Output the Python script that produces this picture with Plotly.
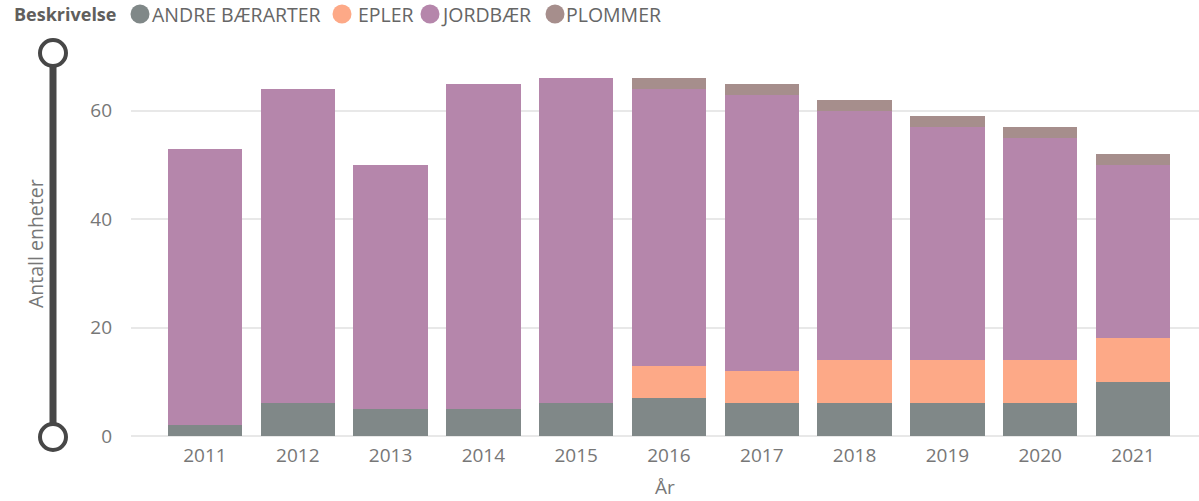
import plotly.graph_objects as go

years = ["2011", "2012", "2013", "2014", "2015", "2016", "2017", "2018", "2019", "2020", "2021"]
andre_baerarter = [2, 6, 5, 5, 6, 7, 6, 6, 6, 6, 10]
epler = [0, 0, 0, 0, 0, 6, 6, 8, 8, 8, 8]
jordbaer = [51, 58, 45, 60, 60, 51, 51, 46, 43, 41, 32]
plommer = [0, 0, 0, 0, 0, 2, 2, 2, 2, 2, 2]

series_names = ["ANDRE BÆRARTER", "EPLER", "JORDBÆR", "PLOMMER"]
series_values = [andre_baerarter, epler, jordbaer, plommer]
series_colors = ["#808888", "#FDA987", "#B586AB", "#A68E8C"]

legend_title = "Beskrivelse"
y_title = "Antall enheter"
x_title = "År"
y_ticks = [0, 20, 40, 60]

FONT = "Segoe UI, Open Sans, sans-serif"
W, H = 1199, 501
L, R, T, B = 131, 0, 55, 65
PW, PH = W - L - R, H - T - B

def px_x(px):
    return (px - L) / PW

def px_y(py):
    return (H - B - py) / PH

fig = go.Figure()
for name, vals, col in zip(series_names, series_values, series_colors):
    fig.add_trace(go.Bar(x=years, y=vals, name=name, marker=dict(color=col, line=dict(width=0)),
                         showlegend=False))

# legend drawn as text + circles (Power BI style)
legend_circle_x = [140, 342, 430, 555]
legend_text_x = [150, 356, 439, 564]
legend_y = 14
annotations = [dict(text="<b>" + legend_title + "</b>", x=px_x(12), y=px_y(legend_y), xref="paper", yref="paper",
                    xanchor="left", yanchor="middle", showarrow=False,
                    font=dict(family=FONT, size=18, color="#605E5C"))]
shapes = []
for name, col, cx, tx in zip(series_names, series_colors, legend_circle_x, legend_text_x):
    annotations.append(dict(text=name, x=px_x(tx), y=px_y(legend_y), xref="paper", yref="paper",
                            xanchor="left", yanchor="middle", showarrow=False,
                            font=dict(family=FONT, size=19.5, color="#666666")))
    shapes.append(dict(type="circle", xref="paper", yref="paper", xsizemode="pixel", ysizemode="pixel",
                       xanchor=px_x(cx), yanchor=px_y(legend_y), x0=-9.5, x1=9.5, y0=-9.5, y1=9.5,
                       fillcolor=col, line=dict(width=0)))

# axis titles
annotations.append(dict(text=y_title, x=px_x(35), y=px_y(244), xref="paper", yref="paper",
                        xanchor="center", yanchor="middle", textangle=-90, showarrow=False,
                        font=dict(family=FONT, size=19.5, color="#777777")))
annotations.append(dict(text=x_title, x=px_x(665), y=px_y(487), xref="paper", yref="paper",
                        xanchor="center", yanchor="middle", showarrow=False,
                        font=dict(family=FONT, size=19, color="#777777")))

# zoom slider decoration on the y axis
slider_col = "#474747"
shapes.append(dict(type="rect", xref="paper", yref="paper", xsizemode="pixel",
                   xanchor=0, x0=53 - L - 3.5, x1=53 - L + 3.5, y0=px_y(53), y1=px_y(437),
                   fillcolor=slider_col, line=dict(width=0), layer="above"))
for cy in (53, 437):
    shapes.append(dict(type="circle", xref="paper", yref="paper", xsizemode="pixel", ysizemode="pixel",
                       xanchor=0, yanchor=px_y(cy), x0=53 - L - 13, x1=53 - L + 13, y0=-13, y1=13,
                       fillcolor="white", line=dict(color=slider_col, width=4), layer="above"))

fig.update_layout(
    width=W, height=H,
    margin=dict(l=L, r=R, t=T, b=B, autoexpand=False),
    barmode="stack", bargap=0.2,
    plot_bgcolor="white", paper_bgcolor="white",
    font=dict(family=FONT, size=18, color="#777777"),
    annotations=annotations, shapes=shapes,
    showlegend=False,
)
fig.update_xaxes(type="category", range=[-0.797, 10.711], showgrid=False, showline=False,
                 zeroline=False, ticks="", ticklabelstandoff=6,
                 tickfont=dict(family=FONT, size=19, color="#777777"), fixedrange=True)
fig.update_yaxes(range=[0, 70.3], tickvals=y_ticks, showgrid=True, gridcolor="#E8E8E8", gridwidth=2,
                 zeroline=True, zerolinecolor="#E8E8E8", zerolinewidth=2, showline=False, ticks="",
                 ticklabelstandoff=18, tickfont=dict(family=FONT, size=19, color="#777777"), fixedrange=True)

fig.write_html("out.html", config={"displayModeBar": False},
               post_script="document.body.style.margin='0';document.body.style.overflow='hidden';")
